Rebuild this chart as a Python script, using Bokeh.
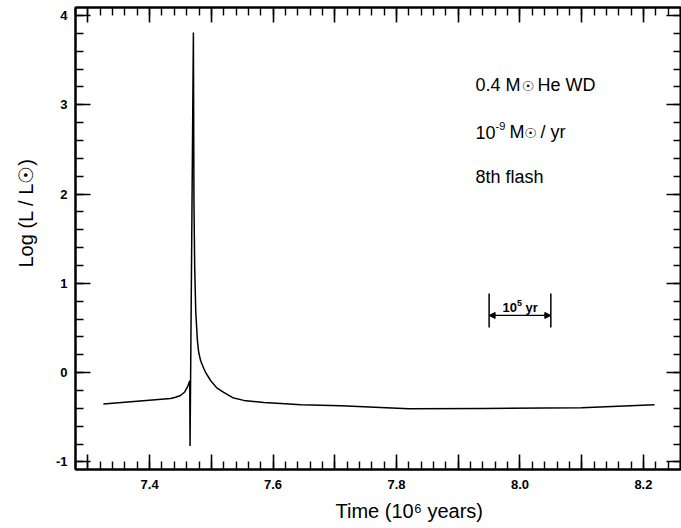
import math
from bokeh.plotting import figure
from bokeh.models import (Range1d, LinearAxis, FixedTicker, Label, Arrow,
                          NormalHead, ColumnDataSource, Title)
from bokeh.embed import file_html
from bokeh.resources import INLINE

# ---------------- data ----------------
time_myr = [7.325, 7.434, 7.4422, 7.450, 7.4568, 7.4612, 7.465, 7.4655, 7.4709,
            7.4718, 7.473, 7.4747, 7.4774, 7.4795, 7.4828, 7.4877, 7.4909, 7.499,
            7.5088, 7.520, 7.5347, 7.5526, 7.585, 7.613, 7.645, 7.71, 7.82,
            7.94, 8.10, 8.218]
log_l = [-0.35, -0.29, -0.275, -0.255, -0.216, -0.162, -0.09, -0.82, 3.81,
         1.93, 1.18, 0.69, 0.36, 0.226, 0.13, 0.047, 0.0, -0.09,
         -0.17, -0.22, -0.28, -0.31, -0.335, -0.345, -0.36, -0.37, -0.405,
         -0.40, -0.393, -0.36]

x_major_ticks = [7.3, 7.4, 7.5, 7.6, 7.7, 7.8, 7.9, 8.0, 8.1, 8.2]
x_tick_labels = {7.4: "7.4", 7.6: "7.6", 7.8: "7.8", 8.0: "8.0", 8.2: "8.2"}
x_minor_ticks = [round(7.28 + 0.02 * i, 2) for i in range(50)]

y_major_ticks = [-1, 0, 1, 2, 3, 4]
y_tick_labels = ["-1", "0", "1", "2", "3", "4"]
y_minor_ticks = [round(-1.0 + 0.2 * i, 1) for i in range(26)]

scale_bar_x = [7.95, 8.05]          # 10^5 yr = 0.1 x 10^6 yr
scale_bar_y = [0.506, 0.887]
scale_arrow_y = 0.641

x_title = "Time (10\u2076 years)"
y_title = "Log (L / L\u2609)"

# ---------------- figure ----------------
p = figure(width=681, height=528, output_backend="svg", toolbar_location=None,
           x_range=Range1d(7.2799, 8.2617), y_range=Range1d(-1.084, 4.0896),
           min_border_left=75, min_border_right=0, min_border_top=7,
           min_border_bottom=59)
p.background_fill_color = "white"
p.border_fill_color = "white"
p.grid.visible = False
p.outline_line_color = "black"
p.outline_line_width = 2

FONT = "Liberation Sans"


def style_axis(ax, ticks, minor, overrides, show):
    ax.ticker = FixedTicker(ticks=ticks, minor_ticks=minor)
    ax.major_tick_in = 15
    ax.major_tick_out = 0
    ax.minor_tick_in = 8
    ax.minor_tick_out = 0
    ax.major_tick_line_width = 1.6
    ax.minor_tick_line_width = 1.4
    ax.major_tick_line_color = "black"
    ax.minor_tick_line_color = "black"
    ax.axis_line_width = 2
    ax.axis_line_color = "black"
    ax.major_label_overrides = overrides
    ax.major_label_text_font = FONT
    ax.major_label_text_font_style = "bold"
    ax.major_label_text_color = "black"
    if show:
        ax.major_label_text_font_size = "13px"
    else:
        ax.major_label_text_font_size = "0px"
        ax.major_label_standoff = 0


x_over = {t: x_tick_labels.get(t, "") for t in x_major_ticks}
y_over = {t: lbl for t, lbl in zip(y_major_ticks, y_tick_labels)}
x_blank = {t: "" for t in x_major_ticks}
y_blank = {t: "" for t in y_major_ticks}

style_axis(p.xaxis[0], x_major_ticks, x_minor_ticks, x_over, True)
p.xaxis[0].major_label_standoff = 10
style_axis(p.yaxis[0], y_major_ticks, y_minor_ticks, y_over, True)
p.yaxis[0].major_label_standoff = 8

top_ax = LinearAxis()
style_axis(top_ax, x_major_ticks, x_minor_ticks, x_blank, False)
p.add_layout(top_ax, "above")
right_ax = LinearAxis()
style_axis(right_ax, y_major_ticks, y_minor_ticks, y_blank, False)
p.add_layout(right_ax, "right")

# axis titles (as titles so they may sit off-centre like the reference)
p.add_layout(Title(text=x_title, align="left", offset=260, standoff=12,
                   text_font=FONT, text_font_size="20px",
                   text_font_style="normal", text_color="black"), "below")
p.add_layout(Title(text=y_title, align="left", offset=202, standoff=27,
                   vertical_align="top",
                   text_font=FONT, text_font_size="20px",
                   text_font_style="normal", text_color="black"), "left")

# ---------------- curve ----------------
src = ColumnDataSource(data=dict(t=time_myr, l=log_l))
p.line("t", "l", source=src, line_color="black", line_width=1.5)

# ---------------- scale bar ----------------
p.segment(x0=scale_bar_x, y0=[scale_bar_y[0]] * 2, x1=scale_bar_x,
          y1=[scale_bar_y[1]] * 2, line_color="black", line_width=1.5)
p.add_layout(Arrow(start=NormalHead(size=6, fill_color="black", line_color="black"),
                   end=NormalHead(size=6, fill_color="black", line_color="black"),
                   x_start=scale_bar_x[0], x_end=scale_bar_x[1],
                   y_start=scale_arrow_y, y_end=scale_arrow_y,
                   line_color="black", line_width=1.3))


def txt(x, y, s, size, font=FONT, style="normal", align="left",
        baseline="alphabetic", angle=0.0):
    p.add_layout(Label(x=x, y=y, x_units="screen", y_units="screen", text=s,
                       text_font=font, text_font_size=f"{size}px",
                       text_font_style=style, text_color="black",
                       text_align=align, text_baseline=baseline, angle=angle))


# screen coordinates relative to the frame's lower-left corner
txt(400, 385, "0.4 M", 18)
txt(452.5, 384, "\u2609", 14, font="DejaVu Sans", align="center", baseline="middle")
txt(462, 385, "He WD", 18)
txt(400, 337.3, "10", 18)
txt(420, 343.5, "-9", 11)
txt(434, 337.3, "M", 18)
txt(455, 336.3, "\u2609", 14, font="DejaVu Sans", align="center", baseline="middle")
txt(465, 337.3, "/ yr", 18)
txt(400, 293, "8th flash", 18)

# scale bar label
txt(427, 161.7, "10", 13, style="bold")
txt(441.6, 167, "5", 9, style="bold")
txt(450, 161.7, "yr", 13, style="bold")

open("out.html", "w").write(file_html(p, INLINE))
